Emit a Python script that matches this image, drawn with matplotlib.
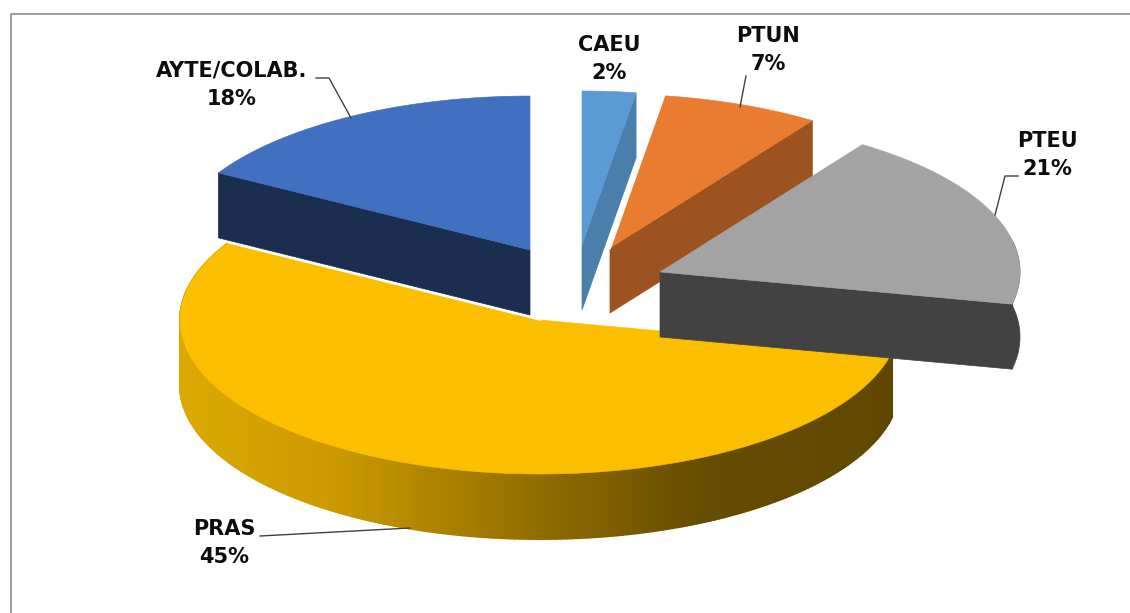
import numpy as np
import matplotlib
matplotlib.use("Agg")
import matplotlib.pyplot as plt
from matplotlib.patches import Polygon
from matplotlib.collections import PolyCollection

# Data: printed labels and the visual shares of the slices
categories = ["CAEU", "PTUN", "PTEU", "PRAS", "AYTE/COLAB."]
printed_pct = [2, 7, 21, 45, 18]
visual_share = [2.4, 7.1, 18.85, 55.0, 16.65]

# Styles / layout
top_colors = ["#5B9BD5", "#EA7C31", "#A3A3A3", "#FCBF00", "#4270C0"]
face_colors = ["#4A7EAB", "#9C5320", "#424242", "#604800", "#1B2E50"]
apexes = [(582, 245), (610, 248), (660, 272), (540, 320), (530, 250)]
RX, RY, DEPTH = 360, 154, 65
label_pos = [(609, 59), (768, 50), (1047, 155), (224, 543), (232, 85)]
leaders = [None,
           [(746, 76), (740, 107)],
           [(1018, 176), (1005, 176), (995, 215)],
           [(260, 536), (410, 528)],
           [(316, 78), (329, 78), (351, 118)]]

fig = plt.figure(figsize=(11.30, 6.13), dpi=100, facecolor="white")
ax = fig.add_axes([0, 0, 1, 1])
ax.set_xlim(0, 1130)
ax.set_ylim(613, 0)
ax.axis("off")

# Frame
ax.plot([1130, 10.5, 10.5], [13.5, 13.5, 613], color="#8C8C8C", lw=1.2, zorder=1)

edges = np.concatenate([[0], np.cumsum(visual_share)]) / np.sum(visual_share) * 2 * np.pi


def rim(apex, t):
    t = np.asarray(t)
    return np.column_stack([apex[0] + RX * np.sin(t), apex[1] - RY * np.cos(t)])


def side_color(x):
    xs = [181, 330, 450, 600, 700, 895]
    rgb = np.array([[0xDB, 0xA9, 0x00], [0xCC, 0x9A, 0x00], [0xAA, 0x80, 0x00],
                    [0x80, 0x60, 0x00], [0x66, 0x4C, 0x00], [0x60, 0x48, 0x00]]) / 255
    return [np.interp(x, xs, rgb[:, k]) for k in range(3)]


def draw_slice(i, z):
    a0, a1 = edges[i], edges[i + 1]
    ap = np.array(apexes[i], dtype=float)
    angles = np.linspace(a0, a1, 240)
    pts = rim(ap, angles)
    down = np.array([0, DEPTH])
    name = categories[i]
    if name == "PRAS":
        # curved outer wall with a horizontal shading
        quads, cols = [], []
        for p, q in zip(pts[:-1], pts[1:]):
            quads.append([p, q, q + down, p + down])
            cols.append(side_color((p[0] + q[0]) / 2))
        ax.add_collection(PolyCollection(quads, facecolors=cols, edgecolors=cols,
                                         linewidths=1.4, zorder=z))
    else:
        # flat cut face: the far edge of the slice faces the viewer
        end = pts[0] if name.startswith("AYTE") else pts[-1]
        ax.add_patch(Polygon([ap, end, end + down, ap + down], closed=True,
                             fc=face_colors[i], ec=face_colors[i], lw=0.5, zorder=z))
    if name == "PTEU":
        vis = pts[angles > np.pi / 2.3]
        ax.add_patch(Polygon(np.vstack([vis, (vis + down)[::-1]]), closed=True,
                             fc=face_colors[i], ec=face_colors[i], lw=0.5, zorder=z))
    ax.add_patch(Polygon(np.vstack([[ap], pts]), closed=True, fc=top_colors[i],
                         ec=top_colors[i], lw=0.4, zorder=z + 0.5))
    # thin white seams where the slices touch
    if name == "PTUN":
        ax.plot([ap[0], pts[0, 0]], [ap[1], pts[0, 1]], color="white", lw=1.6, zorder=z + 0.6)
    if name == "PRAS":
        ax.plot([ap[0], pts[-1, 0]], [ap[1], pts[-1, 1]], color="white", lw=1.0, zorder=z + 0.6)


for i, z in zip([4, 0, 1, 3, 2], [2, 3, 4, 5, 6]):
    draw_slice(i, z)

for name, pct, pos, lead in zip(categories, printed_pct, label_pos, leaders):
    ax.text(pos[0], pos[1], f"{name}\n{pct}%", ha="center", va="center",
            fontsize=15, fontweight="bold", family="DejaVu Sans", color="#0D0D0D",
            linespacing=1.5, zorder=10)
    if lead:
        xs, ys = zip(*lead)
        ax.plot(xs, ys, color="#404040", lw=1.0, zorder=9)

fig.savefig("out.png", dpi=100, facecolor="white")
